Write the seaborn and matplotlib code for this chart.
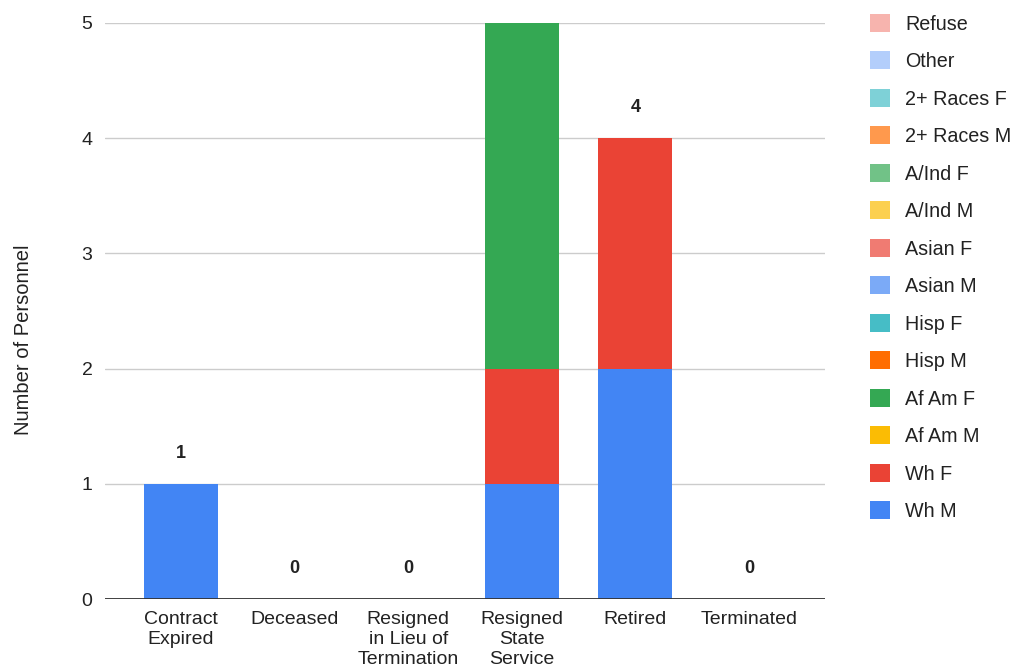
import numpy as np
import pandas as pd
import matplotlib
matplotlib.use('Agg')
import matplotlib.pyplot as plt
import seaborn as sns
from matplotlib.patches import Patch

categories = ["Contract\nExpired", "Deceased", "Resigned\nin Lieu of\nTermination",
              "Resigned\nState\nService", "Retired", "Terminated"]

# stacking order, bottom to top
series = ["Wh M", "Wh F", "Af Am M", "Af Am F", "Hisp M", "Hisp F", "Asian M", "Asian F",
          "A/Ind M", "A/Ind F", "2+ Races M", "2+ Races F", "Other", "Refuse"]
colors = ["#4285F4", "#EA4335", "#FBBC04", "#34A853", "#FF6D01", "#46BDC6", "#7BAAF7",
          "#F07B72", "#FCD04F", "#71C287", "#FF994D", "#7ED1D7", "#B3CEFB", "#F7B4AE"]

wh_m = [1, 0, 0, 1, 2, 0]
wh_f = [0, 0, 0, 1, 2, 0]
af_am_f = [0, 0, 0, 3, 0, 0]
zeros = [0, 0, 0, 0, 0, 0]

values = {s: zeros for s in series}
values["Wh M"] = wh_m
values["Wh F"] = wh_f
values["Af Am F"] = af_am_f

y_max = 5

sns.set_theme(style="white")
plt.rcParams['font.family'] = ['Liberation Sans', 'DejaVu Sans']

fig = plt.figure(figsize=(10.17, 6.71), dpi=100)
ax = fig.add_axes([105 / 1017, 1 - 599 / 671, 720 / 1017, 576 / 671])

bottom = np.zeros(len(categories))
for s, c in zip(series, colors):
    vals = np.array(values[s], dtype=float)
    df = pd.DataFrame({"cat": categories, "val": vals})
    sns.barplot(data=df, x="cat", y="val", color=c, bottom=bottom, width=0.65,
                saturation=1, ax=ax, zorder=3, linewidth=0)
    bottom = bottom + vals

# total labels; the one at the top of the scale falls outside the chart and is not shown
totals = bottom
for i, t in enumerate(totals):
    if t >= y_max:
        continue
    ax.annotate(f"{int(t)}", (i, t), xytext=(0, 22), textcoords="offset points",
                ha="center", va="center", fontsize=13, fontweight="bold",
                color="#222222")

ax.set_xlim(-0.67, 5.67)
ax.set_ylim(0, y_max)
ax.set_yticks([0, 1, 2, 3, 4, 5])
ax.yaxis.grid(True, color="#cccccc", linewidth=1, zorder=0)
ax.axhline(0, color="#333333", linewidth=1.3, zorder=4)
for sp in ax.spines.values():
    sp.set_visible(False)
ax.tick_params(axis="both", length=0, labelsize=14, colors="#222222")
ax.tick_params(axis="y", pad=9)
ax.tick_params(axis="x", pad=9)
ax.set_xlabel("")
ax.set_ylabel("Number of Personnel", fontsize=14.5, color="#222222")
ax.yaxis.set_label_coords(-0.10, 0.45)
for lbl in ax.get_xticklabels():
    lbl.set_linespacing(1.22)

handles = [Patch(facecolor=c, edgecolor="none") for c in colors][::-1]
fig.legend(handles, series[::-1], loc="upper left", bbox_to_anchor=(852 / 1017, 1 + 4 / 671),
           frameon=False, fontsize=14.2, labelspacing=0.9, handlelength=1.03,
           handleheight=1.03, handletextpad=0.77, labelcolor="#222222")

fig.savefig("out.png", dpi=100)
